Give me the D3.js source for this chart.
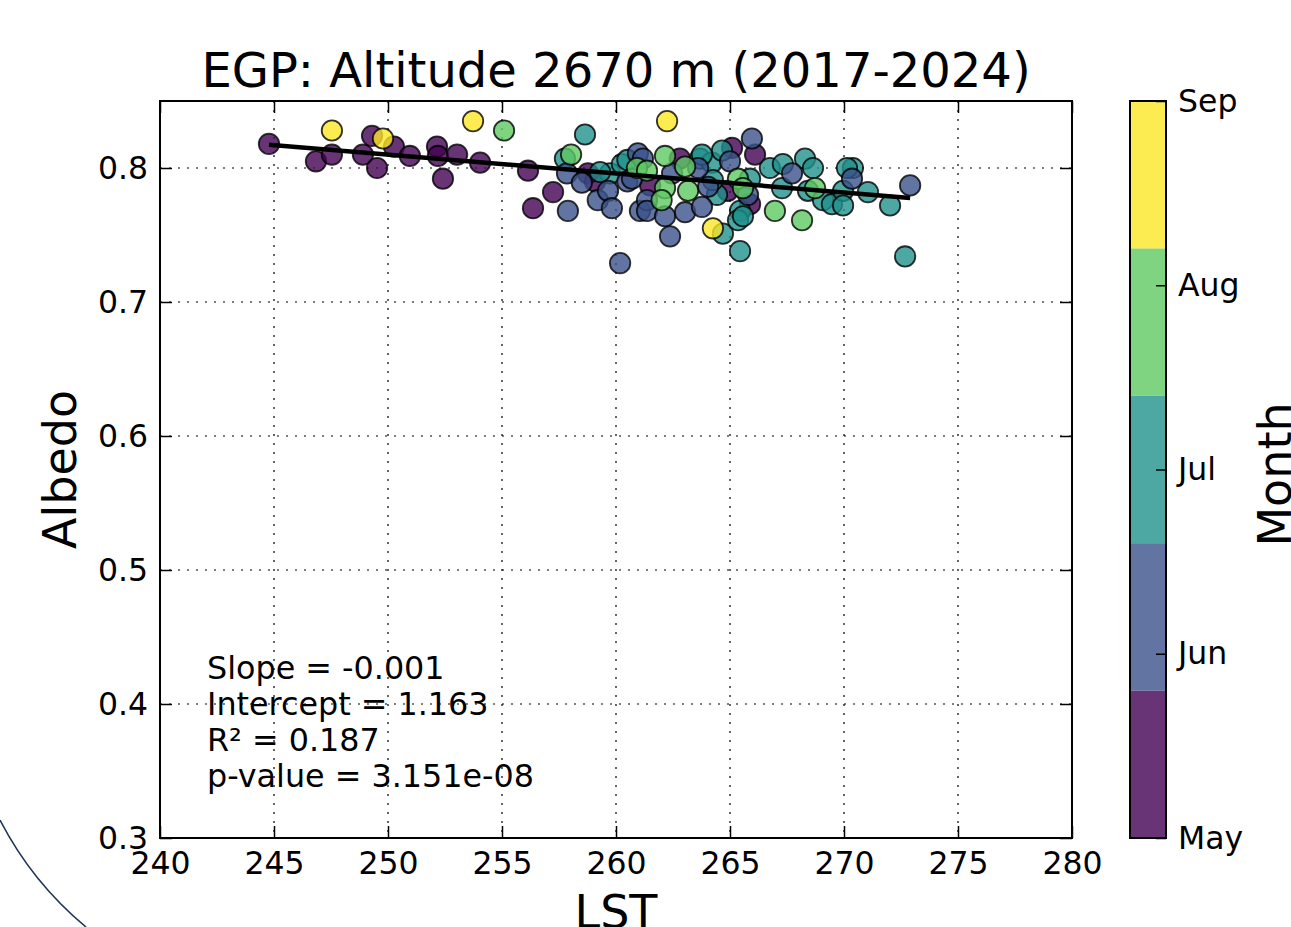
<!DOCTYPE html>
<html>
<head>
<meta charset="utf-8">
<script src="https://cdn.jsdelivr.net/npm/d3@7/dist/d3.min.js"></script>
<style>
  html, body { margin: 0; padding: 0; background: #fff; }
  svg { display: block; font-family: "DejaVu Sans", sans-serif; }
</style>
</head>
<body>
<svg id="chart" width="1291" height="927"></svg>
<script>
// ---------------- DATA ----------------
const title = "EGP: Altitude 2670 m (2017-2024)";
const xTicks = [240, 245, 250, 255, 260, 265, 270, 275, 280];
const yTicks = [0.3, 0.4, 0.5, 0.6, 0.7, 0.8];
const monthValues = [5, 6, 7, 8, 9];
const monthLabels = ["May", "Jun", "Jul", "Aug", "Sep"];
const monthColors = ["#440154", "#3b528b", "#21918c", "#5ec962", "#fde725"];

// Points: LST, Albedo, Month
const lst = [
  // May
  244.78, 246.84, 247.54, 248.90, 249.30, 249.52, 250.26, 250.96, 252.15, 252.19, 252.41, 253.03,
  254.04, 256.14, 256.36, 257.24, 258.77, 259.08, 261.50, 262.80, 264.90, 265.09, 266.10, 265.88,
  // Sep
  247.54, 249.78, 253.73, 262.24,
  // Jul
  258.64, 257.76, 259.74, 260.26, 260.50, 263.68, 264.20, 264.65, 264.43, 265.44, 264.69, 265.44,
  265.35, 265.88, 265.57, 266.75, 267.32, 267.28, 268.29, 268.64, 268.42, 269.08, 269.47, 269.96,
  270.39, 269.96, 271.05, 272.02, 272.68, 263.77, 264.25, 259.30, 270.13,
  // Jun
  257.85, 257.89, 258.50, 259.20, 259.65, 259.82, 260.18, 260.50, 260.96, 261.05, 261.36, 261.18,
  262.46, 261.36, 262.15, 262.37, 263.03, 263.77, 263.60, 265.00, 264.04, 265.96, 265.79, 267.72,
  270.35, 272.90, 260.70,
  // Aug
  255.09, 258.03, 260.92, 261.36, 262.15, 263.03, 262.15, 262.00, 263.16, 265.35, 266.97, 268.16,
  268.73, 265.57,
  // Sep
  264.25
];
const albedo = [
  // May
  0.818, 0.805, 0.810, 0.810, 0.824, 0.800, 0.816, 0.809, 0.816, 0.809, 0.792, 0.810,
  0.804, 0.798, 0.770, 0.782, 0.796, 0.790, 0.787, 0.807, 0.783, 0.815, 0.810, 0.773,
  // Sep
  0.828, 0.822, 0.835, 0.835,
  // Jul
  0.825, 0.807, 0.796, 0.803, 0.806, 0.807, 0.804, 0.813, 0.780, 0.768, 0.751, 0.738,
  0.761, 0.792, 0.764, 0.800, 0.803, 0.785, 0.807, 0.800, 0.783, 0.776, 0.773, 0.783,
  0.800, 0.772, 0.782, 0.772, 0.734, 0.810, 0.791, 0.797, 0.800,
  // Jun
  0.796, 0.768, 0.789, 0.776, 0.783, 0.770, 0.729, 0.790, 0.811, 0.768, 0.776, 0.807,
  0.796, 0.768, 0.764, 0.749, 0.767, 0.771, 0.800, 0.805, 0.786, 0.822, 0.780, 0.796,
  0.792, 0.787, 0.792,
  // Aug
  0.828, 0.810, 0.800, 0.798, 0.809, 0.801, 0.785, 0.776, 0.783, 0.792, 0.768, 0.761,
  0.785, 0.785,
  // Sep
  0.755
];
const month = [
  5,5,5,5,5,5,5,5,5,5,5,5, 5,5,5,5,5,5,5,5,5,5,5,5,
  9,9,9,9,
  7,7,7,7,7,7,7,7,7,7,7,7, 7,7,7,7,7,7,7,7,7,7,7,7, 7,7,7,7,7,7,7,7,7,
  6,6,6,6,6,6,6,6,6,6,6,6, 6,6,6,6,6,6,6,6,6,6,6,6, 6,6,6,
  8,8,8,8,8,8,8,8,8,8,8,8, 8,8,
  9
];

// Regression statistics
const slope = -0.001412;
const intercept = 1.163;
const statLines = ["Slope = -0.001", "Intercept = 1.163", "R\u00b2 = 0.187", "p-value = 3.151e-08"];

// ---------------- DRAW ----------------
const svg = d3.select("#chart");

// decorative background arc (slide edge)
svg.append("path")
  .attr("d", "M0,820 A345,345 0 0,0 86,927")
  .attr("fill", "none").attr("stroke", "#1d3557").attr("stroke-width", 1.6);

const L = 160, R = 1072, T = 101, B = 838;
const x = d3.scaleLinear().domain([240, 280]).range([L, R]);
const y = d3.scaleLinear().domain([0.3, 0.85]).range([B, T]);

// grid
const grid = svg.append("g");
grid.selectAll("line.vx").data(xTicks.slice(1, -1)).join("line")
  .attr("x1", d => x(d)).attr("x2", d => x(d)).attr("y1", T).attr("y2", B)
  .attr("stroke", "#000").attr("stroke-width", 1.2).attr("stroke-dasharray", "2,7");
grid.selectAll("line.hy").data(yTicks.slice(1)).join("line")
  .attr("y1", d => y(d)).attr("y2", d => y(d)).attr("x1", L).attr("x2", R)
  .attr("stroke", "#000").attr("stroke-width", 1.2).attr("stroke-dasharray", "2,7");

// points
const pts = lst.map((v, i) => ({ x: v, y: albedo[i], m: month[i] }));
const color = d3.scaleOrdinal().domain(monthValues).range(monthColors);
svg.append("g").selectAll("circle").data(pts).join("circle")
  .attr("cx", d => x(d.x)).attr("cy", d => y(d.y)).attr("r", 10.2)
  .attr("fill", d => color(d.m)).attr("fill-opacity", 0.8)
  .attr("stroke", "#000").attr("stroke-opacity", 0.8).attr("stroke-width", 1.8);

// regression line
const xmin = d3.min(lst), xmax = d3.max(lst);
svg.append("line")
  .attr("x1", x(xmin)).attr("y1", y(intercept + slope * xmin))
  .attr("x2", x(xmax)).attr("y2", y(intercept + slope * xmax))
  .attr("stroke", "#000").attr("stroke-width", 4.5);

// axes
const fs = 31.5;
const ax = svg.append("g").attr("transform", `translate(0,${B})`)
  .call(d3.axisBottom(x).tickValues(xTicks).tickSizeInner(-12).tickSizeOuter(0).tickPadding(14).tickFormat(d3.format("d")));
const ay = svg.append("g").attr("transform", `translate(${L},0)`)
  .call(d3.axisLeft(y).tickValues(yTicks).tickSizeInner(-12).tickSizeOuter(0).tickPadding(12).tickFormat(d3.format(".1f")));
const at = svg.append("g").attr("transform", `translate(0,${T})`)
  .call(d3.axisTop(x).tickValues(xTicks).tickSizeInner(-12).tickSizeOuter(0).tickFormat(""));
const ar = svg.append("g").attr("transform", `translate(${R},0)`)
  .call(d3.axisRight(y).tickValues(yTicks).tickSizeInner(-12).tickSizeOuter(0).tickFormat(""));
[ax, ay, at, ar].forEach(g => {
  g.select(".domain").remove();
  g.selectAll(".tick line").attr("stroke", "#000").attr("stroke-width", 1.5);
  g.selectAll("text").attr("font-size", fs).attr("font-family", "DejaVu Sans").attr("fill", "#000");
});

// frame
svg.append("rect").attr("x", L).attr("y", T).attr("width", R - L).attr("height", B - T)
  .attr("fill", "none").attr("stroke", "#000").attr("stroke-width", 2);

// title & labels
svg.append("text").attr("x", (L + R) / 2).attr("y", 87).attr("text-anchor", "middle")
  .attr("font-size", 48).text(title);
svg.append("text").attr("transform", `translate(76,${(T + B) / 2}) rotate(-90)`)
  .attr("text-anchor", "middle").attr("font-size", 46).text("Albedo");
svg.append("text").attr("x", (L + R) / 2).attr("y", 928).attr("text-anchor", "middle")
  .attr("font-size", 46).text("LST");

// stats
svg.append("g").selectAll("text").data(statLines).join("text")
  .attr("x", 207).attr("y", (d, i) => 679 + i * 36)
  .attr("font-size", 31.8).text(d => d);

// colorbar
const cbL = 1130, cbW = 36;
const cy = d3.scaleLinear().domain([5, 9]).range([B, T]);
const bandW = (9 - 5) / monthColors.length;
svg.append("g").selectAll("rect").data(monthColors).join("rect")
  .attr("x", cbL).attr("width", cbW)
  .attr("y", (d, i) => cy(5 + (i + 1) * bandW))
  .attr("height", (d, i) => cy(5 + i * bandW) - cy(5 + (i + 1) * bandW))
  .attr("fill", d => d).attr("fill-opacity", 0.8);
svg.append("rect").attr("x", cbL).attr("y", T).attr("width", cbW).attr("height", B - T)
  .attr("fill", "none").attr("stroke", "#000").attr("stroke-width", 2);
const acb = svg.append("g").attr("transform", `translate(${cbL + cbW},0)`)
  .call(d3.axisRight(cy).tickValues(monthValues).tickSizeInner(-10).tickSizeOuter(0).tickPadding(12)
    .tickFormat((d, i) => monthLabels[i]));
acb.select(".domain").remove();
acb.selectAll(".tick line").attr("stroke", "#000").attr("stroke-width", 1.5);
acb.selectAll("text").attr("font-size", fs).attr("font-family", "DejaVu Sans").attr("fill", "#000");
svg.append("text").attr("transform", `translate(1291,${(T + B) / 2 + 5}) rotate(-90)`)
  .attr("text-anchor", "middle").attr("font-size", 46).text("Month");
</script>
</body>
</html>
